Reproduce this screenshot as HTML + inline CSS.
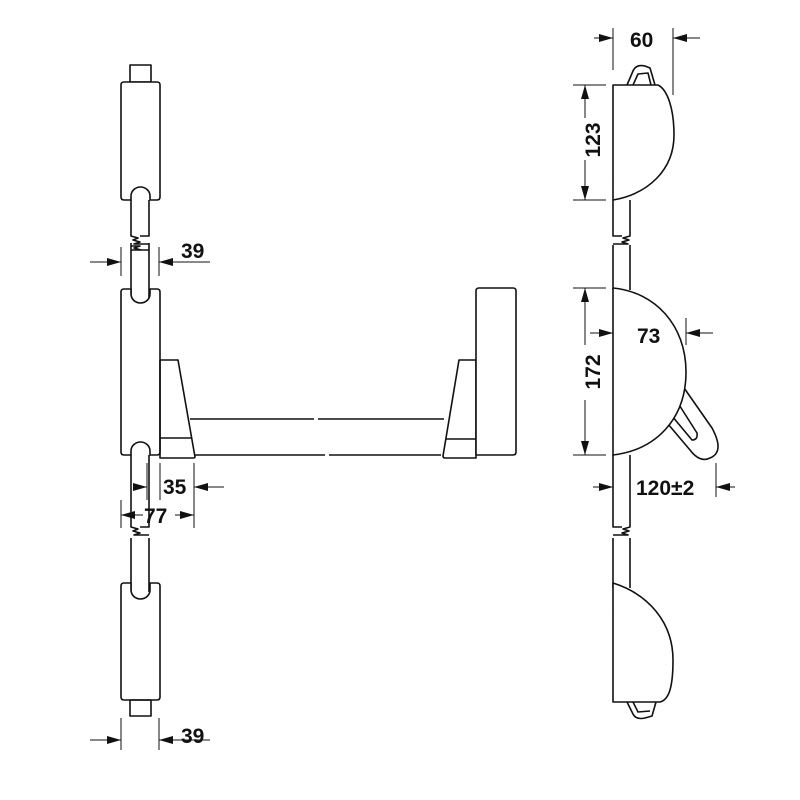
<!DOCTYPE html>
<html><head><style>body{margin:0;background:#fff}svg{display:block}text{font-family:"Liberation Sans",Arial,sans-serif;font-weight:bold;font-size:21px;fill:#111}</style></head>
<body>
<svg width="800" height="800" viewBox="0 0 800 800" xmlns="http://www.w3.org/2000/svg">
<defs><marker id="a" viewBox="0 0 14 8" refX="14" refY="4" markerWidth="14" markerHeight="8" orient="auto" markerUnits="userSpaceOnUse"><path d="M0,0L14,4L0,8z" fill="#111"/></marker></defs>
<g fill="none" stroke="#111" stroke-width="1.6" stroke-linejoin="round">
<!-- left column -->
<rect x="130" y="65" width="21" height="17"/>
<path d="M124,82H157Q160,82 160,85V197Q160,200 157,200H150V196A9.5,9 0 0 0 131,196V200H124Q121,200 121,197V85Q121,82 124,82Z" fill="#fff"/>
<path d="M131,200V236L138,238L133,240L140,242L134,244L149,244M149,200V236L140,236M131,243V300M149,243V300"/>
<path d="M131,246L140,246L134,248L141,250L131,250M149,250H141"/>
<path d="M124,289H131V294A9.5,9 0 0 0 150,294V289H157Q160,289 160,292V452Q160,455 157,455H150V451A9.5,9 0 0 0 131,451V455H124Q121,455 121,452V292Q121,289 124,289Z" fill="#fff"/>
<path d="M131,455V527L138,529L133,531L140,533L134,535L149,535M149,455V527L140,527M131,538V592M149,538V592"/>
<path d="M124,583H131V590A9.5,9 0 0 0 150,590V583H157Q160,583 160,586V697Q160,700 157,700H124Q121,700 121,697V586Q121,583 124,583Z" fill="#fff"/>
<rect x="130" y="700" width="21" height="16"/>
<!-- bar -->
<path d="M160,360H178L195,457Q195,458 193,458H160Z M160,438H192"/>
<path d="M190,419H314M318,419H444M195,455H325M329,455H441"/>
<path d="M476,360H459L443,456Q443,458 445,458H476Z M446,439H476"/>
<path d="M479,288H513Q516,288 516,291V452Q516,455 513,455H476V291Q476,288 479,288Z" fill="#fff"/>
<!-- right column -->
<path d="M630,200V236L623,238L629,240L622,242L628,244L613,244M613,200V236L622,236M613,245V290M630,245V290"/>
<path d="M630,455V527L623,529L629,531L622,533L628,535L613,535M613,455V527L622,527M613,538V588M630,538V588"/>
<path d="M627,85L633,71Q636,64 645,66L650,68L655,85M633,85L638,74L648,73L651,85"/>
<path d="M613,85H658C668,90 674,110 674,135C674,170 648,194 613,200Z" fill="#fff"/>
<path d="M682,385L712,428Q725,452 710,458Q700,463 690,450L668,424M676,400L697,433Q698,440 692,440L672,416" fill="#fff"/>
<path d="M613,288C655,292 686,325 686,372C686,420 655,450 613,455Z" fill="#fff"/>
<path d="M613,583C648,594 673,622 673,660C673,690 668,700 660,702H613Z" fill="#fff"/>
<path d="M627,702L633,714Q636,720 645,718L652,716L656,702M633,702L638,712L650,711"/>
</g>
<g stroke="#111" stroke-width="1" fill="none">
<path d="M121,247V276M159,247V276M147,463V500M160,463V500M194,463V528M121,500V528M121,718V750M159,718V750"/>
<path d="M90,262H121" marker-end="url(#a)"/><path d="M210,262H159" marker-end="url(#a)"/>
<path d="M133,487H147" marker-end="url(#a)"/><path d="M224,487H194" marker-end="url(#a)"/>
<path d="M143,515H121" marker-end="url(#a)"/><path d="M175,515H194" marker-end="url(#a)"/>
<path d="M90,740H121" marker-end="url(#a)"/><path d="M210,740H159" marker-end="url(#a)"/>
<path d="M613,28V70M673,28V95"/>
<path d="M594,38H613" marker-end="url(#a)"/><path d="M700,38H673" marker-end="url(#a)"/>
<path d="M573,85H606M573,200H606M573,288H606M573,455H606"/>
<path d="M585,118V85" marker-end="url(#a)"/><path d="M585,160V200" marker-end="url(#a)"/>
<path d="M585,345V288" marker-end="url(#a)"/><path d="M585,400V455" marker-end="url(#a)"/>
<path d="M590,333H613" marker-end="url(#a)"/><path d="M713,333H686" marker-end="url(#a)"/>
<path d="M686,318V345M716,463V497"/>
<path d="M593,487H613" marker-end="url(#a)"/><path d="M735,487H716" marker-end="url(#a)"/>
</g>
<text x="181" y="258">39</text>
<text x="163" y="494">35</text>
<text x="144" y="523">77</text>
<text x="181" y="743">39</text>
<text x="630" y="47">60</text>
<text x="637" y="343">73</text>
<text x="636" y="495">120±2</text>
<text transform="translate(600,140) rotate(-90)" text-anchor="middle">123</text>
<text transform="translate(600,372) rotate(-90)" text-anchor="middle">172</text>
</svg>
</body></html>
